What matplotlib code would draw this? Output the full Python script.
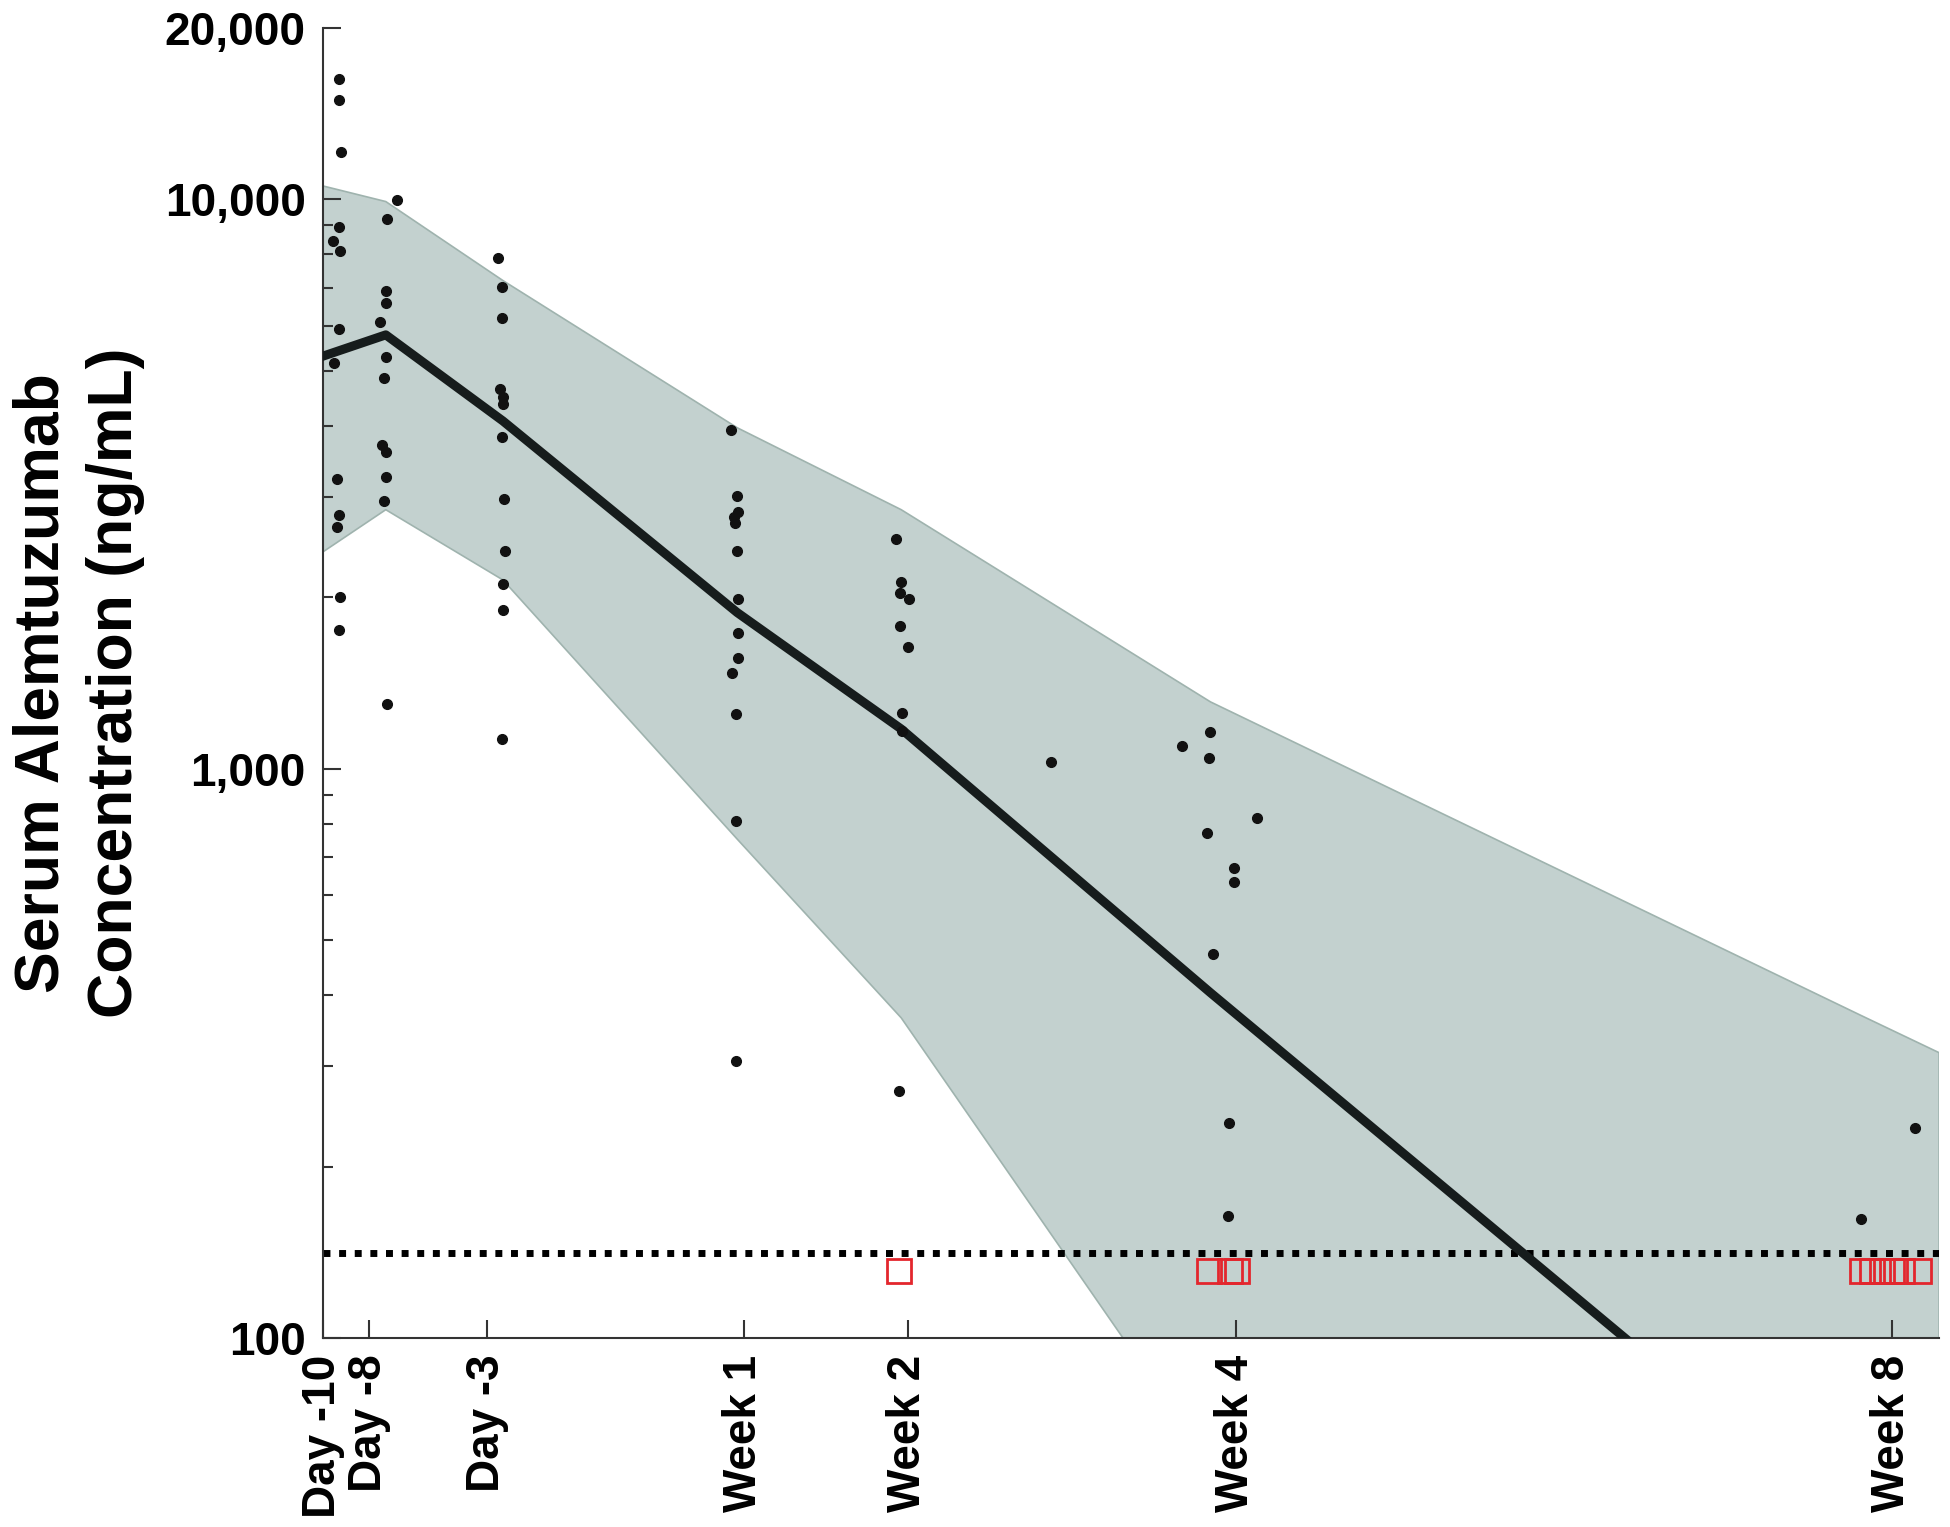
import matplotlib
matplotlib.use('Agg')
import matplotlib.pyplot as plt
from matplotlib.ticker import FixedLocator, NullFormatter

plt.rcParams['font.family'] = ['Liberation Sans', 'DejaVu Sans']
plt.rcParams['font.weight'] = 'bold'

# Visit ticks (study day)
tick_days = [-10, -8, -3, 8, 15, 29, 57]
tick_labels = ['Day -10', 'Day -8', 'Day -3', 'Week 1', 'Week 2', 'Week 4', 'Week 8']

# Mean curve and band
band_days = [-10, -7.3, -2.3, 7.7, 14.7, 27.9, 55.7, 59.0]
band_upper = [10560, 9910, 7200, 3970, 2850, 1310, 368, 317]
band_lower = [2400, 2850, 2145, 752, 365, 60, 8, 6]
mean_conc = [5300, 5780, 4080, 1880, 1174, 404, 45, 36]

# Individual observed concentrations
obs_days = [
    -9.28, -9.28, -9.22, -9.28, -9.54, -9.25, -9.28, -9.51, -9.37, -9.28, -9.37, -9.25, -9.28,
    -6.83, -7.26, -7.29, -7.29, -7.55, -7.29, -7.38, -7.47, -7.29, -7.29, -7.38, -7.23,
    -2.52, -2.33, -2.33, -2.42, -2.30, -2.28, -2.33, -2.25, -2.21, -2.28, -2.31, -2.35,
    7.43, 7.68, 7.72, 7.58, 7.61, 7.68, 7.75, 7.72, 7.75, 7.49, 7.65, 7.65, 7.65,
    14.48, 14.68, 14.65, 15.03, 14.65, 15.00, 14.72, 14.72, 14.61,
    21.09,
    27.90, 26.70, 27.85, 29.90, 27.76, 28.90, 28.90, 28.02, 28.70, 28.63,
    55.66, 57.97,
]
obs_conc = [
    16270, 14950, 12130, 8955, 8440, 8128, 5920, 5150, 3232, 2790, 2658, 2005, 1752,
    9970, 9240, 6900, 6570, 6085, 5292, 4851, 3704, 3605, 3253, 2957, 1299,
    7898, 7007, 6181, 4640, 4500, 4365, 3830, 2974, 2415, 2108, 1900, 1128,
    3936, 3013, 2828, 2767, 2705, 2415, 1987, 1729, 1567, 1475, 1247, 810, 307,
    2532, 2131, 2033, 1987, 1781, 1634, 1251, 1166, 272,
    1027,
    1161, 1097, 1043, 820, 770, 668, 633, 472, 239, 164,
    162, 234,
]

# Samples below the limit of quantification
blq_days = [14.61, 27.85, 28.75, 29.05, 55.70, 56.13, 56.55, 56.98, 57.40, 58.13]
blq_conc = [131] * len(blq_days)

lloq = 141

fig = plt.figure(figsize=(19.5, 15.27), dpi=100)
ax = fig.add_axes([0.1654, 0.1238, 0.8290, 0.8579])

# Shaded band and mean
ax.fill_between(band_days, band_lower, band_upper, facecolor='#c3d1cf',
                edgecolor='#9fb3ae', linewidth=1.2, zorder=1)
ax.plot([-10, 59], [lloq, lloq], color='black', linewidth=5,
        linestyle=(0, (1, 1.25)), zorder=2)
ax.plot(band_days, mean_conc, color='#161c1c', linewidth=6.5, zorder=3)

# Points
ax.plot(obs_days, obs_conc, 'o', color='#111111', markersize=7, zorder=4)
ax.plot(blq_days, blq_conc, 's', markerfacecolor='none', markeredgecolor='#e3262d',
        markersize=17, markeredgewidth=2, zorder=5)

ax.set_yscale('log')
ax.set_xlim(-10, 59)
ax.set_ylim(100, 20000)

ax.yaxis.set_major_locator(FixedLocator([100, 1000, 10000, 20000]))
ax.set_yticklabels(['100', '1,000', '10,000', '20,000'])
minors = [200, 300, 400, 500, 600, 700, 800, 900,
          2000, 3000, 4000, 5000, 6000, 7000, 8000, 9000]
ax.yaxis.set_minor_locator(FixedLocator(minors))
ax.yaxis.set_minor_formatter(NullFormatter())

ax.set_xticks(tick_days)
ax.set_xticklabels(tick_labels, rotation=90)
ax.xaxis.set_minor_locator(FixedLocator([]))

for side in ['top', 'right']:
    ax.spines[side].set_visible(False)
for side in ['left', 'bottom']:
    ax.spines[side].set_linewidth(1.5)
    ax.spines[side].set_color('#333333')

ax.tick_params(axis='both', which='major', direction='in', length=13, width=1.5,
               color='#333333', labelsize=33, pad=12)
ax.tick_params(axis='y', which='minor', direction='in', length=7, width=1.5,
               color='#333333')

ax.set_ylabel('Serum Alemtuzumab\nConcentration (ng/mL)', fontsize=45,
              fontweight='bold', linespacing=1.3)
ax.yaxis.set_label_coords(-0.11, 0.5)

fig.savefig('out.png', dpi=100)
